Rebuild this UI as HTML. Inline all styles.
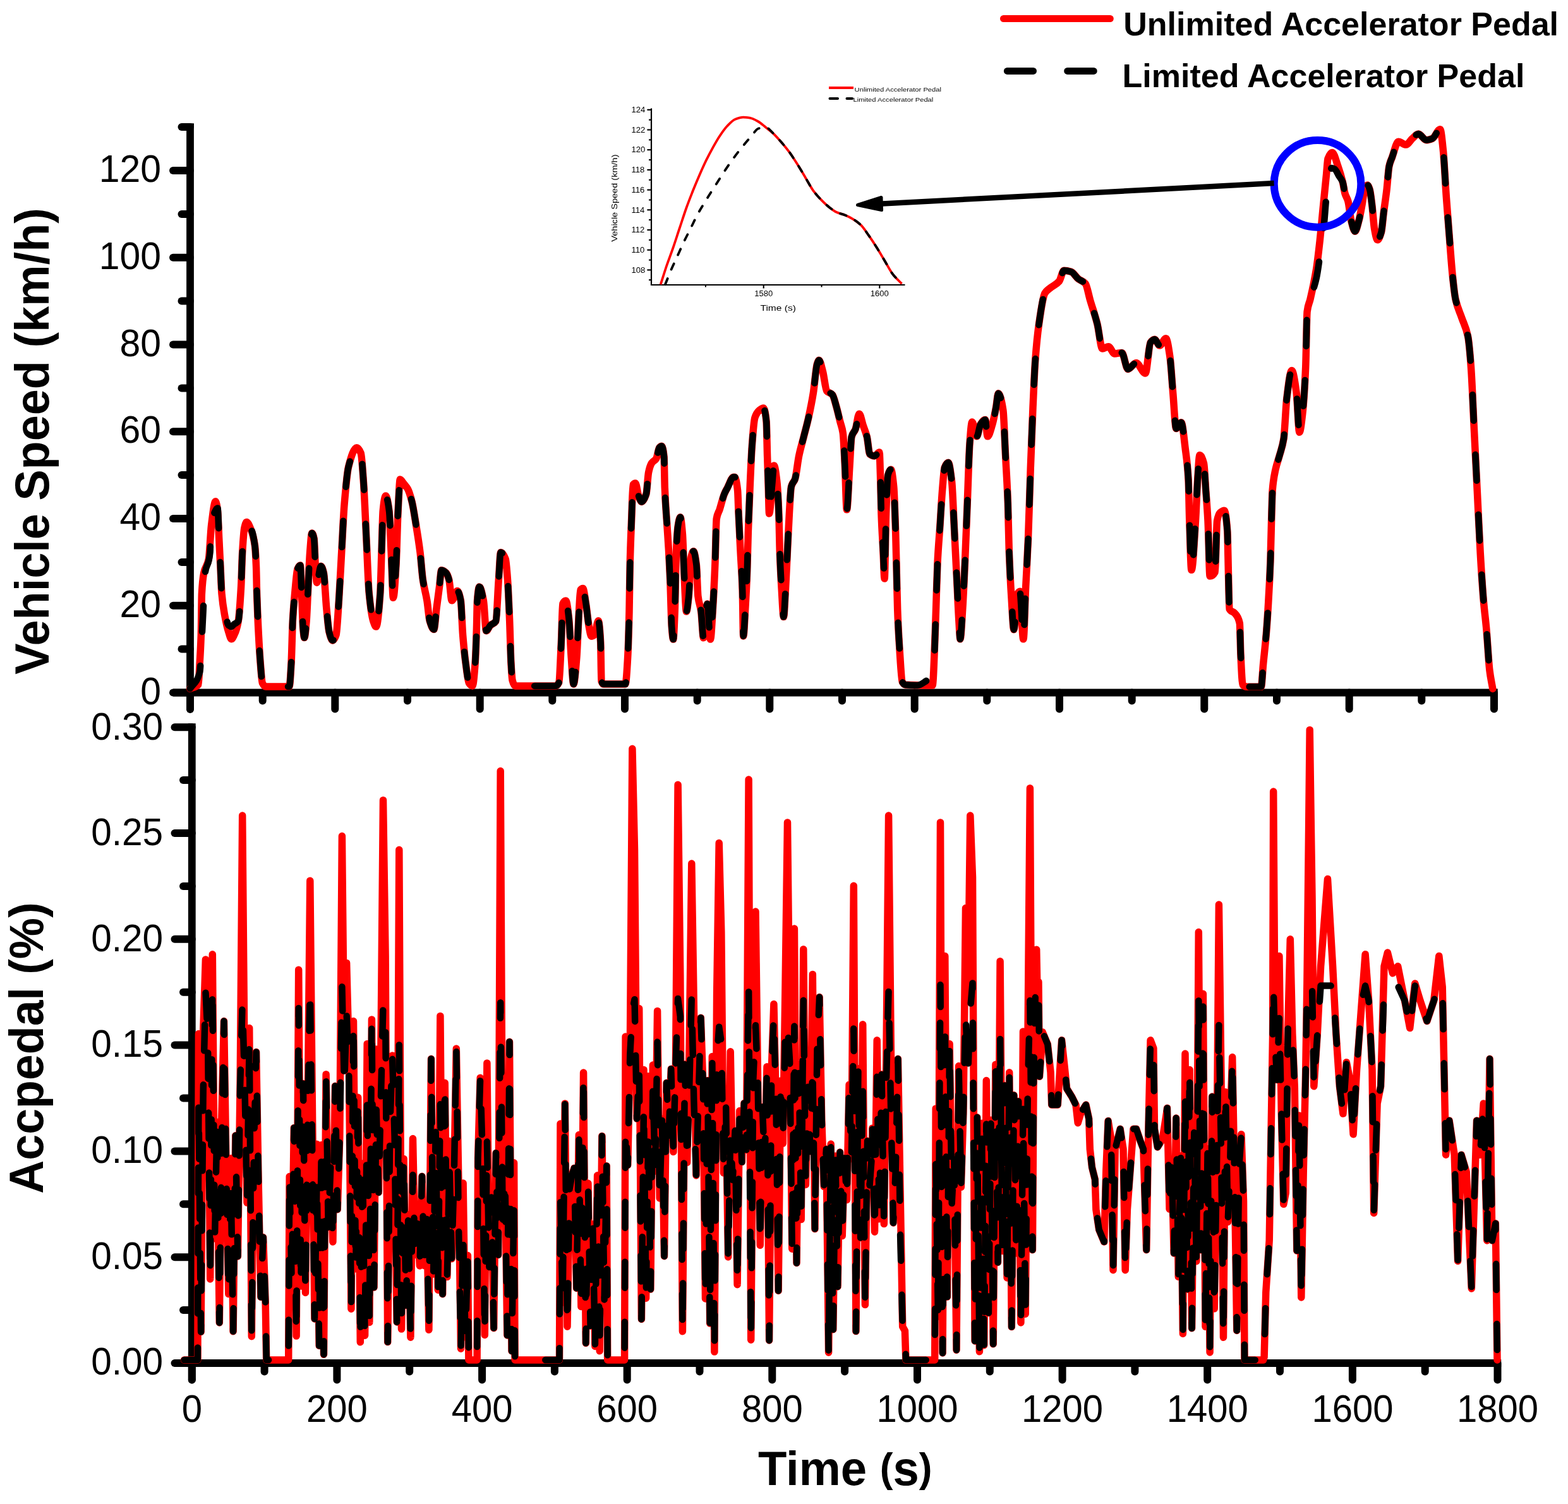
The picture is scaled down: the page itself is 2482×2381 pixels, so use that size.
<!DOCTYPE html>
<html><head><meta charset="utf-8"><title>Vehicle Speed and Accpedal</title>
<style>html,body{margin:0;padding:0;background:#fff;} svg{display:block;}</style>
</head><body>
<svg width="2482" height="2381" viewBox="0 0 2482 2381">
<rect width="2482" height="2381" fill="#fff"/>
<g stroke="#000" stroke-linecap="round" fill="none">
<line x1="301.0" y1="195.5" x2="301.0" y2="1122.5" stroke-width="11.8" stroke-linecap="butt"/>
<line x1="301.0" y1="1122" x2="301.0" y2="1123" stroke-width="11.8"/>
<line x1="274" y1="1096.5" x2="2370.5" y2="1096.5" stroke-width="11.8" stroke-linecap="butt"/>
<line x1="274" y1="1096.5" x2="301.0" y2="1096.5" stroke-width="12.0"/>
<line x1="274" y1="958.8" x2="301.0" y2="958.8" stroke-width="12.0"/>
<line x1="274" y1="821" x2="301.0" y2="821" stroke-width="12.0"/>
<line x1="274" y1="683.2" x2="301.0" y2="683.2" stroke-width="12.0"/>
<line x1="274" y1="545.5" x2="301.0" y2="545.5" stroke-width="12.0"/>
<line x1="274" y1="407.8" x2="301.0" y2="407.8" stroke-width="12.0"/>
<line x1="274" y1="270" x2="301.0" y2="270" stroke-width="12.0"/>
<line x1="287.5" y1="1027.6" x2="301.0" y2="1027.6" stroke-width="12.0"/>
<line x1="287.5" y1="889.9" x2="301.0" y2="889.9" stroke-width="12.0"/>
<line x1="287.5" y1="752.1" x2="301.0" y2="752.1" stroke-width="12.0"/>
<line x1="287.5" y1="614.4" x2="301.0" y2="614.4" stroke-width="12.0"/>
<line x1="287.5" y1="476.6" x2="301.0" y2="476.6" stroke-width="12.0"/>
<line x1="287.5" y1="338.9" x2="301.0" y2="338.9" stroke-width="12.0"/>
<line x1="287.5" y1="201.1" x2="301.0" y2="201.1" stroke-width="12.0"/>
<line x1="301" y1="1096.5" x2="301" y2="1122.5" stroke-width="12.0"/>
<line x1="530.3" y1="1096.5" x2="530.3" y2="1122.5" stroke-width="12.0"/>
<line x1="759.7" y1="1096.5" x2="759.7" y2="1122.5" stroke-width="12.0"/>
<line x1="989" y1="1096.5" x2="989" y2="1122.5" stroke-width="12.0"/>
<line x1="1218.3" y1="1096.5" x2="1218.3" y2="1122.5" stroke-width="12.0"/>
<line x1="1447.7" y1="1096.5" x2="1447.7" y2="1122.5" stroke-width="12.0"/>
<line x1="1677" y1="1096.5" x2="1677" y2="1122.5" stroke-width="12.0"/>
<line x1="1906.3" y1="1096.5" x2="1906.3" y2="1122.5" stroke-width="12.0"/>
<line x1="2135.7" y1="1096.5" x2="2135.7" y2="1122.5" stroke-width="12.0"/>
<line x1="2365" y1="1096.5" x2="2365" y2="1122.5" stroke-width="12.0"/>
<line x1="415.7" y1="1096.5" x2="415.7" y2="1109.5" stroke-width="12.0"/>
<line x1="645" y1="1096.5" x2="645" y2="1109.5" stroke-width="12.0"/>
<line x1="874.3" y1="1096.5" x2="874.3" y2="1109.5" stroke-width="12.0"/>
<line x1="1103.7" y1="1096.5" x2="1103.7" y2="1109.5" stroke-width="12.0"/>
<line x1="1333" y1="1096.5" x2="1333" y2="1109.5" stroke-width="12.0"/>
<line x1="1562.3" y1="1096.5" x2="1562.3" y2="1109.5" stroke-width="12.0"/>
<line x1="1791.7" y1="1096.5" x2="1791.7" y2="1109.5" stroke-width="12.0"/>
<line x1="2021" y1="1096.5" x2="2021" y2="1109.5" stroke-width="12.0"/>
<line x1="2250.3" y1="1096.5" x2="2250.3" y2="1109.5" stroke-width="12.0"/>
<rect x="295.1" y="195.5" width="11.8" height="6" fill="#000" stroke="none"/>
<rect x="2364.5" y="1090.6" width="6" height="11.8" fill="#000" stroke="none"/>
</g>
<g stroke="#000" stroke-linecap="round" fill="none">
<line x1="303.8" y1="1145.3" x2="303.8" y2="2184.5" stroke-width="11.8" stroke-linecap="butt"/>
<line x1="303.8" y1="2184" x2="303.8" y2="2184.5" stroke-width="11.8"/>
<line x1="276.5" y1="2158.0" x2="2376" y2="2158.0" stroke-width="11.8" stroke-linecap="butt"/>
<line x1="276.5" y1="2158" x2="303.8" y2="2158" stroke-width="12.0"/>
<line x1="276.5" y1="1990.2" x2="303.8" y2="1990.2" stroke-width="12.0"/>
<line x1="276.5" y1="1822.4" x2="303.8" y2="1822.4" stroke-width="12.0"/>
<line x1="276.5" y1="1654.6" x2="303.8" y2="1654.6" stroke-width="12.0"/>
<line x1="276.5" y1="1486.8" x2="303.8" y2="1486.8" stroke-width="12.0"/>
<line x1="276.5" y1="1319" x2="303.8" y2="1319" stroke-width="12.0"/>
<line x1="276.5" y1="1151.2" x2="303.8" y2="1151.2" stroke-width="12.0"/>
<line x1="290" y1="2074.1" x2="303.8" y2="2074.1" stroke-width="12.0"/>
<line x1="290" y1="1906.3" x2="303.8" y2="1906.3" stroke-width="12.0"/>
<line x1="290" y1="1738.5" x2="303.8" y2="1738.5" stroke-width="12.0"/>
<line x1="290" y1="1570.7" x2="303.8" y2="1570.7" stroke-width="12.0"/>
<line x1="290" y1="1402.9" x2="303.8" y2="1402.9" stroke-width="12.0"/>
<line x1="290" y1="1235.1" x2="303.8" y2="1235.1" stroke-width="12.0"/>
<line x1="303.8" y1="2158.0" x2="303.8" y2="2184.5" stroke-width="12.0"/>
<line x1="533.4" y1="2158.0" x2="533.4" y2="2184.5" stroke-width="12.0"/>
<line x1="763.1" y1="2158.0" x2="763.1" y2="2184.5" stroke-width="12.0"/>
<line x1="992.7" y1="2158.0" x2="992.7" y2="2184.5" stroke-width="12.0"/>
<line x1="1222.3" y1="2158.0" x2="1222.3" y2="2184.5" stroke-width="12.0"/>
<line x1="1452" y1="2158.0" x2="1452" y2="2184.5" stroke-width="12.0"/>
<line x1="1681.6" y1="2158.0" x2="1681.6" y2="2184.5" stroke-width="12.0"/>
<line x1="1911.2" y1="2158.0" x2="1911.2" y2="2184.5" stroke-width="12.0"/>
<line x1="2140.9" y1="2158.0" x2="2140.9" y2="2184.5" stroke-width="12.0"/>
<line x1="2370.5" y1="2158.0" x2="2370.5" y2="2184.5" stroke-width="12.0"/>
<line x1="418.6" y1="2158.0" x2="418.6" y2="2171.5" stroke-width="12.0"/>
<line x1="648.2" y1="2158.0" x2="648.2" y2="2171.5" stroke-width="12.0"/>
<line x1="877.9" y1="2158.0" x2="877.9" y2="2171.5" stroke-width="12.0"/>
<line x1="1107.5" y1="2158.0" x2="1107.5" y2="2171.5" stroke-width="12.0"/>
<line x1="1337.1" y1="2158.0" x2="1337.1" y2="2171.5" stroke-width="12.0"/>
<line x1="1566.8" y1="2158.0" x2="1566.8" y2="2171.5" stroke-width="12.0"/>
<line x1="1796.4" y1="2158.0" x2="1796.4" y2="2171.5" stroke-width="12.0"/>
<line x1="2026" y1="2158.0" x2="2026" y2="2171.5" stroke-width="12.0"/>
<line x1="2255.7" y1="2158.0" x2="2255.7" y2="2171.5" stroke-width="12.0"/>
<rect x="2370.2" y="2152.1" width="6" height="11.8" fill="#000" stroke="none"/>
</g>
<path d="M300.9,1090.2C305.3,1088 309.6,1089.1 314,1083.7C314.7,1082.8 315.5,1062 316.2,1048.8C316.9,1036.2 317.6,1027.9 318.3,1005.2C318.7,993.3 319,946.9 319.4,939.8C320.5,918.6 321.6,912.4 322.7,907.1C325.2,894.9 327.8,897.8 330.3,885.3C331.8,878.1 333.2,842.5 334.7,830.8C336.9,813.5 339,793.7 341.2,793.7C342.3,793.7 343.4,800.4 344.5,809C345.2,814.7 346,838.1 346.7,852.6C347.4,867.1 348.2,881.3 348.9,896.2C349.6,910.4 350.3,931.7 351,939.8C352.5,956.8 353.9,964.3 355.4,972.5C357.6,984.6 359.7,994.1 361.9,1000.8C363.4,1005.4 364.8,1011.7 366.3,1011.7C367.8,1011.7 369.2,1008.1 370.7,1005.2C372.9,1000.9 375,995.3 377.2,983.4C378.7,975.4 380.1,954.6 381.6,928.9C382.3,916.7 383,886.1 383.7,874.4C384.8,856 385.9,840 387,835.2C388.1,830.4 389.2,826.4 390.3,826.4C392.5,826.4 394.6,832.2 396.8,837.3C399,842.5 401.2,848 403.4,863.5C404.1,868.4 404.8,879.8 405.5,896.2C405.9,904.8 406.2,928.3 406.6,939.8C407.3,962.7 408.1,979.6 408.8,994.3C409.9,1016.4 411,1035.2 412.1,1048.8C413.2,1062.4 414.3,1079.3 415.4,1081.5C417.2,1085.1 419,1087 420.8,1087C433.2,1087 445.5,1087 457.9,1087C459,1087 460,1067.5 461.1,1048.8C461.8,1036 462.6,997.2 463.3,983.4C464.4,962.7 465.5,951.6 466.6,939.8C468.1,924 469.5,903.9 471,900.6C472.4,897.4 473.9,895.1 475.3,895.1C476,895.1 476.8,923.4 477.5,939.8C478.2,956.2 479,986.1 479.7,994.3C480.4,1002.1 481.1,1009.6 481.8,1009.6C482.9,1009.6 484,996.2 485.1,983.4C485.8,974.8 486.6,954.3 487.3,939.8C488.4,918 489.5,888.5 490.6,874.4C491.7,860.7 492.7,843.9 493.8,843.9C494.9,843.9 496,847.2 497.1,852.6C497.8,856.2 498.6,885.3 499.3,896.2C500,907.1 500.8,922.4 501.5,922.4C503.7,922.4 505.8,896.2 508,896.2C509.5,896.2 510.9,901 512.4,907.1C513.8,913.1 515.3,946.6 516.7,961.6C518.2,977 519.6,995.1 521.1,1000.8C522.9,1007.8 524.7,1013.9 526.5,1013.9C528.3,1013.9 530.2,1010.5 532,1005.2C533.5,1001 534.9,972.1 536.4,950.7C537.8,929.8 539.3,899.5 540.7,874.4C542.2,848.7 543.6,815.9 545.1,798.1C547.3,771.8 549.4,747.8 551.6,739.2C556,721.9 560.3,708.7 564.7,708.7C566.9,708.7 569,712 571.2,717.4C572.7,721.1 574.1,744.6 575.6,765.4C577,785.8 578.5,823.9 579.9,852.6C581.4,882 582.8,924.8 584.3,939.8C586.5,962.4 588.7,976.9 590.9,983.4C592.4,987.7 593.8,992.1 595.3,992.1C597.5,992.1 599.6,970.1 601.8,939.8C602.5,929.5 603.3,896.2 604,874.4C604.7,852.6 605.5,816.4 606.2,809C607.6,794.5 609.1,785 610.5,785C612.3,785 614.2,795 616,809C617.1,817.1 618.1,851.9 619.2,874.4C620.3,897.6 621.4,946.3 622.5,946.3C624,946.3 625.4,920.3 626.9,896.2C628,878.7 629,829.8 630.1,809C631.2,787.5 632.3,758.9 633.4,758.9C635.2,758.9 637.1,763.1 638.9,765.4C641.1,768.1 643.2,770.1 645.4,774.1C647.6,778.1 649.7,785.2 651.9,793.7C654.1,802.3 656.3,817.3 658.5,830.8C660.7,844.1 662.8,856.8 665,874.4C666.5,886.3 667.9,908 669.4,918C671.6,932.8 673.7,937.5 675.9,950.7C677.4,959.6 678.8,978.6 680.3,983.4C682.5,990.5 684.6,996.5 686.8,996.5C688.3,996.5 689.7,973 691.2,961.6C692.6,950.5 694.1,940 695.5,928.9C696.6,920.3 697.7,902.7 698.8,902.7C701.3,902.7 703.9,904.6 706.4,907.1C707.9,908.6 709.3,912.6 710.8,918C712.3,923.5 713.7,950.7 715.2,950.7C718.1,950.7 721,935.4 723.9,935.4C725.7,935.4 727.5,941.5 729.3,950.7C730.4,956.3 731.5,991.4 732.6,1005.2C734.1,1023.6 735.5,1037.7 737,1048.8C738.8,1062.4 740.6,1079 742.4,1081.5C744.2,1084.1 746.1,1085.9 747.9,1085.9C749.3,1085.9 750.8,1068.2 752.2,1048.8C752.9,1038.9 753.7,1017.2 754.4,994.3C754.8,982.8 755.1,955.4 755.5,950.7C756.6,936.6 757.7,928.9 758.8,928.9C761,928.9 763.1,939.2 765.3,950.7C766.8,958.5 768.2,998.7 769.7,998.7C771.9,998.7 774,992.1 776.2,990C779.1,987.2 782,988 784.9,983.4C786.4,981.1 787.8,938.5 789.3,918C790.4,902.7 791.5,874.4 792.6,874.4C795.1,874.4 797.7,878.3 800.2,885.3C801.3,888.4 802.4,903.3 803.5,918C804.6,932.3 805.6,957.3 806.7,983.4C807.4,1001.4 808.2,1035.6 808.9,1048.8C809.6,1062 810.4,1074.3 811.1,1077.1C812.5,1082.6 814,1085.9 815.4,1085.9C836.9,1085.9 858.5,1085.9 880,1085.9C881.6,1085.9 883.1,1084 884.7,1080.6C885.9,1077.9 887.2,1042.7 888.4,1017C889.2,1000.4 890,957.6 890.8,955.9C892.4,952.4 894.1,951 895.7,951C897.3,951 899,965.6 900.6,980.3C901.8,991.4 903.1,1024.7 904.3,1041.5C905.5,1057.8 906.7,1083.1 907.9,1083.1C909.5,1083.1 911.2,1061.3 912.8,1041.5C914,1026.6 915.3,988.4 916.5,968.1C917.3,955 918.1,934.9 918.9,933.8C920.1,932.2 921.4,931.4 922.6,931.4C924.2,931.4 925.9,946.1 927.5,955.9C929.1,965.7 930.8,984.3 932.4,992.6C933.6,998.9 934.9,1007.2 936.1,1007.2C937.7,1007.2 939.4,1006.2 941,1004.8C943,1003.1 945.1,982.8 947.1,982.8C948.3,982.8 949.5,995.8 950.7,1017C951.1,1024.6 951.6,1076.9 952,1078.2C953.2,1081.9 954.4,1083.1 955.6,1083.1C967,1083.1 978.5,1083.1 989.9,1083.1C991.1,1083.1 992.4,1062.5 993.6,1041.5C994.4,1027.9 995.2,1002 996,968.1C996.4,951.2 996.8,911.3 997.2,894.7C998,860.2 998.9,842.5 999.7,821.3C1000.5,801 1001.3,768.5 1002.1,767.4C1003.3,765.7 1004.6,765 1005.8,765C1007.4,765 1009.1,780.2 1010.7,784.6C1012.3,789 1014,794.4 1015.6,794.4C1018,794.4 1020.5,789.6 1022.9,782.1C1024.1,778.3 1025.4,753.6 1026.6,747.9C1028.2,740.3 1029.9,735.7 1031.5,733.2C1033.9,729.4 1036.4,729.8 1038.8,725.9C1040.4,723.3 1042.1,710.4 1043.7,708.7C1044.9,707.4 1046.2,706.3 1047.4,706.3C1048.6,706.3 1049.9,711.6 1051.1,723.4C1051.5,727.2 1051.9,762.2 1052.3,772.3C1053.5,803.6 1054.8,814 1056,833.5C1056.8,846.2 1057.6,856.2 1058.4,870.2C1059.2,884.2 1060,899.9 1060.8,919.1C1061.6,939.1 1062.5,982 1063.3,992.6C1064.1,1002.7 1064.9,1012.1 1065.7,1012.1C1066.5,1012.1 1067.4,988.6 1068.2,968.1C1069,948.4 1069.8,887.5 1070.6,870.2C1071.4,852.2 1072.3,838.9 1073.1,833.5C1074.3,825.5 1075.6,818.8 1076.8,818.8C1078,818.8 1079.2,831.5 1080.4,845.7C1081.2,855.6 1082.1,890 1082.9,906.9C1084.1,931.2 1085.3,968.1 1086.5,968.1C1087.7,968.1 1089,955.3 1090.2,943.6C1091.4,931.9 1092.7,888 1093.9,882.4C1095.1,876.8 1096.4,872.7 1097.6,872.7C1099.2,872.7 1100.8,882 1102.4,894.7C1103.2,901.3 1104.1,936.5 1104.9,943.6C1106.5,957.5 1108.2,956.6 1109.8,968.1C1111,976.8 1112.3,1009.7 1113.5,1009.7C1114.7,1009.7 1115.9,976.1 1117.1,968.1C1117.9,962.5 1118.8,955.9 1119.6,955.9C1121.2,955.9 1122.9,1012.1 1124.5,1012.1C1125.7,1012.1 1126.9,986.2 1128.1,968.1C1129.3,949.5 1130.6,924.8 1131.8,894.7C1132.6,875.2 1133.4,826.1 1134.2,821.3C1135.8,811.5 1137.5,811.7 1139.1,806.6C1141.6,798.9 1144,788.1 1146.5,782.1C1148.1,778.1 1149.8,775.4 1151.4,772.3C1154.7,766.2 1157.9,755.2 1161.2,755.2C1161.8,755.2 1162.4,755.2 1163,755.3C1164.5,755.4 1166.1,763.1 1167.6,776.5C1168.1,780.9 1168.6,801.8 1169.1,812.9C1170.1,835.2 1171.1,853.6 1172.1,873.5C1173.1,894.1 1174.2,903.9 1175.2,934.2C1175.7,948.9 1176.2,1006.9 1176.7,1006.9C1177.7,1006.9 1178.7,981.1 1179.7,964.5C1180.7,947.9 1181.7,931.1 1182.7,903.9C1183.2,889.4 1183.8,859.7 1184.3,843.2C1185.3,812.2 1186.3,789.9 1187.3,767.4C1188.3,744.9 1189.3,720.4 1190.3,706.8C1191.8,685.9 1193.4,665.8 1194.9,661.3C1197.4,653.9 1200,651.1 1202.5,649.2C1204.5,647.7 1206.5,646.1 1208.5,646.1C1210,646.1 1211.6,652.9 1213.1,667.4C1213.6,672.1 1214.1,705.4 1214.6,721.9C1215.1,738.4 1215.6,752.2 1216.1,767.4C1216.6,782.6 1217.1,812.9 1217.6,812.9C1219.1,812.9 1220.7,782.7 1222.2,767.4C1223.2,757.4 1224.2,737.1 1225.2,737.1C1226.7,737.1 1228.2,748.7 1229.7,761.3C1230.7,770 1231.8,787.3 1232.8,812.9C1233.3,825.3 1233.8,859.5 1234.3,873.5C1235.3,901.5 1236.3,917.9 1237.3,934.2C1238.3,951.1 1239.4,976.6 1240.4,976.6C1241.4,976.6 1242.4,950.8 1243.4,934.2C1244.4,917.6 1245.4,893.7 1246.4,873.5C1247.4,853.3 1248.4,829.3 1249.4,812.9C1250.4,796 1251.5,774.3 1252.5,770.4C1254.5,762.8 1256.5,764.3 1258.5,758.3C1260.5,752.2 1262.6,731.7 1264.6,721.9C1267.1,709.7 1269.7,701.7 1272.2,691.6C1274.7,681.5 1277.3,672.7 1279.8,661.3C1282.3,649.9 1284.9,637.6 1287.4,621.9C1289.4,609.5 1291.4,582.4 1293.4,576.4C1294.4,573.4 1295.4,570.3 1296.4,570.3C1298.4,570.3 1300.5,580.9 1302.5,588.5C1304.5,596.1 1306.6,616.3 1308.6,618.8C1311.6,622.6 1314.7,621.4 1317.7,624.9C1319.7,627.2 1321.7,636.2 1323.7,643.1C1325.7,650.1 1327.8,659.3 1329.8,667.4C1331.3,673.4 1332.8,675.4 1334.3,685.5C1335.3,692.5 1336.4,717 1337.4,737.1C1338.4,756.5 1339.4,806.8 1340.4,806.8C1341.9,806.8 1343.5,760.3 1345,737.1C1346,721.9 1347,695.4 1348,691.6C1350,683.8 1352.1,684.9 1354.1,679.5C1356.1,674.2 1358.1,655.2 1360.1,655.2C1362.1,655.2 1364.2,667.3 1366.2,673.4C1368.2,679.5 1370.3,683.3 1372.3,691.6C1373.8,697.7 1375.3,717.7 1376.8,718.9C1379.3,720.9 1381.9,721.9 1384.4,721.9C1386.9,721.9 1389.5,715.9 1392,715.9C1392.5,715.9 1393,737.1 1393.5,752.2C1394,767.3 1394.5,798.9 1395,812.9C1396,840.9 1397,853.3 1398,873.5C1398.7,887.7 1399.4,916 1400.1,916C1400.9,916 1401.8,835.8 1402.6,812.9C1403.6,785.5 1404.6,756 1405.6,752.2C1407.1,746.4 1408.7,743.2 1410.2,743.2C1411.7,743.2 1413.2,755.3 1414.7,770.4C1415.7,780.5 1416.7,812 1417.7,843.2C1418.2,858.8 1418.7,883.7 1419.2,903.9C1419.7,924.1 1420.2,950.8 1420.7,964.5C1421.7,992.9 1422.8,1009.4 1423.8,1025.1C1425.3,1047.9 1426.8,1077.1 1428.3,1079.7C1429.8,1082.4 1431.4,1083.9 1432.9,1084C1447.3,1084.9 1461.6,1085 1476,1085C1477.4,1085 1478.8,1037.8 1480.2,1004.2C1480.8,989 1481.5,966.5 1482.1,947.6C1482.7,928.7 1483.4,904 1484,890.9C1485.3,864.8 1486.5,853.4 1487.8,834.3C1489,815.7 1490.3,792.5 1491.5,777.6C1492.8,762.3 1494,743 1495.3,739.9C1497.2,735.2 1499.1,732.3 1501,732.3C1502.9,732.3 1504.7,746.3 1506.6,762.5C1507.9,773.5 1509.1,809.8 1510.4,834.3C1511.7,858.8 1512.9,884.6 1514.2,909.8C1515.5,935 1516.7,964.9 1518,985.3C1518.6,995.5 1519.3,1011.8 1519.9,1011.8C1521.1,1011.8 1522.4,985.2 1523.6,966.5C1524.9,947.3 1526.1,918.9 1527.4,890.9C1528.7,862.9 1529.9,828 1531.2,796.5C1532.5,765 1533.7,719.1 1535,702.1C1536.2,685.6 1537.5,668.1 1538.7,668.1C1541.2,668.1 1543.8,690.8 1546.3,690.8C1548.2,690.8 1550.1,674.9 1552,671.9C1554.5,668 1557,664.4 1559.5,664.4C1560.8,664.4 1562,690.8 1563.3,690.8C1565.8,690.8 1568.3,680.2 1570.8,671.9C1572.7,665.6 1574.6,655.5 1576.5,645.5C1577.8,638.8 1579,622.8 1580.3,622.8C1582.8,622.8 1585.3,633.2 1587.8,649.2C1589.1,657.3 1590.3,696.5 1591.6,721C1592.9,745.5 1594.1,761.7 1595.4,796.5C1596,813.9 1596.7,854.6 1597.3,872C1598.6,906.9 1599.8,927.5 1601.1,947.6C1602.3,967.2 1603.6,996.7 1604.8,996.7C1606.7,996.7 1608.6,943.2 1610.5,940C1611.8,937.9 1613,936.3 1614.3,936.3C1616.2,936.3 1618,1011.8 1619.9,1011.8C1621.2,1011.8 1622.4,955.1 1623.7,928.7C1625,902.3 1626.2,883.4 1627.5,853.2C1628.8,823 1630,774.7 1631.3,739.9C1632.5,706 1633.8,673.1 1635,645.5C1636.3,617.2 1637.5,587.1 1638.8,569.9C1640.7,544.2 1642.6,526.6 1644.5,513.3C1647.6,491.3 1650.8,469.3 1653.9,464.2C1656.4,460 1659,458.8 1661.5,456.6C1666.5,452.2 1671.6,451.3 1676.6,445.3C1679.1,442.3 1681.6,428.3 1684.1,428.3C1687.9,428.3 1691.7,429.1 1695.5,430.2C1699.3,431.3 1703,438.5 1706.8,441.5C1710.6,444.5 1714.3,444.7 1718.1,449.1C1720.6,452.1 1723.2,466.9 1725.7,475.5C1729.5,488.4 1733.2,498.2 1737,513.3C1739.6,523.9 1742.3,551.9 1744.9,551.9C1748.1,551.9 1751.4,548.7 1754.6,548.7C1757.8,548.7 1761.1,560 1764.3,560C1768.1,560 1771.9,558.4 1775.7,558.4C1778.9,558.4 1782.2,584.4 1785.4,584.4C1789.7,584.4 1794.1,574.6 1798.4,574.6C1803.3,574.6 1808.1,590.9 1813,590.9C1815.7,590.9 1818.4,545.7 1821.1,542.2C1823.3,539.4 1825.4,537.3 1827.6,537.3C1830.3,537.3 1833,547 1835.7,547C1839,547 1842.2,535.7 1845.5,535.7C1847.6,535.7 1849.8,550.5 1851.9,564.9C1853.5,575.9 1855.2,604.4 1856.8,623.3C1858.4,642.2 1860.1,678.5 1861.7,678.5C1864.4,678.5 1867.1,668.7 1869.8,668.7C1872,668.7 1874.1,693.6 1876.3,710.9C1877.9,723.7 1879.5,731.3 1881.1,759.6C1881.7,769.6 1882.2,807.3 1882.8,824.5C1883.9,856.9 1884.9,902.3 1886,902.3C1888.2,902.3 1890.3,858.1 1892.5,824.5C1893.6,808 1894.6,775.6 1895.7,759.6C1896.8,743.2 1897.9,720.6 1899,720.6C1901.2,720.6 1903.3,725.4 1905.5,733.6C1906.6,737.6 1907.6,760.9 1908.7,775.8C1909.8,791.1 1910.9,803.4 1912,824.5C1913.1,845 1914.1,912.1 1915.2,912.1C1917.9,912.1 1920.6,910.4 1923.3,905.6C1924.4,903.6 1925.5,830.1 1926.6,824.5C1928.2,816.3 1929.8,812.9 1931.4,811.5C1933.6,809.6 1935.7,808.2 1937.9,808.2C1939.5,808.2 1941.2,819.5 1942.8,840.7C1943.3,847.6 1943.9,885.1 1944.4,905.6C1944.9,926.1 1945.5,962.9 1946,964C1948.7,969.4 1951.4,967.4 1954.1,970.5C1956.8,973.6 1959.6,974.1 1962.3,986.7C1962.8,989.2 1963.4,1024.2 1963.9,1035.4C1965,1057.8 1966,1082.8 1967.1,1084C1969.3,1086.4 1971.4,1087.3 1973.6,1087.3C1981.2,1087.3 1988.7,1087.3 1996.3,1087.3C1997.4,1087.3 1998.5,1063.1 1999.6,1051.6C2001.2,1034.8 2002.8,1022.3 2004.4,1002.9C2005.5,989.5 2006.6,973.1 2007.7,954.3C2008.8,936.1 2009.8,918.6 2010.9,889.4C2011.5,873.9 2012,843.7 2012.6,824.5C2013.1,806.5 2013.7,782.4 2014.2,775.8C2015.8,756 2017.4,750.9 2019,743.4C2021.2,733.2 2023.3,728.7 2025.5,720.6C2027.7,712.5 2029.8,708.3 2032,694.7C2033.6,684.4 2035.3,643 2036.9,629.8C2039.5,608.8 2042.1,586.4 2044.7,586.4C2047.1,586.4 2049.6,603.3 2052,620.6C2053.6,632.2 2055.3,684.3 2056.9,684.3C2058.5,684.3 2060.2,668.9 2061.8,654.9C2063.4,640.9 2065.1,618 2066.7,581.5C2067.5,563.6 2068.3,499.8 2069.1,493.4C2070.7,480.4 2072.4,481 2074,473.8C2077.3,459.5 2080.5,445.5 2083.8,424.9C2085.4,414.6 2087.1,400.3 2088.7,385.7C2090.7,367.9 2092.7,344.9 2094.7,324.7C2096.3,308.2 2098,292.2 2099.6,275.7C2100.4,267.6 2101.2,253.5 2102,251.2C2104.3,244.7 2106.5,241.4 2108.8,241.4C2111.9,241.4 2114.9,254.9 2118,263.5C2120.4,270.4 2122.9,278.1 2125.3,288C2126.5,293 2127.8,302.1 2129,306.3C2130.6,311.8 2132.3,312.8 2133.9,318.6C2135.5,324.4 2137.2,342.8 2138.8,349.2C2140.8,357.2 2142.9,366.3 2144.9,366.3C2146.9,366.3 2149,356.6 2151,349.2C2152.6,343.3 2154.3,333.4 2155.9,324.7C2157.5,316 2159.2,299.1 2160.8,296.5C2162,294.5 2163.3,292.9 2164.5,292.9C2165.7,292.9 2167,296.4 2168.2,300.2C2169.4,303.9 2170.6,315 2171.8,324.7C2173,334.6 2174.3,354.5 2175.5,361.4C2177.1,370.5 2178.8,379.8 2180.4,379.8C2182.4,379.8 2184.5,374.4 2186.5,367.5C2187.7,363.3 2189,346.6 2190.2,336.9C2191.8,324 2193.5,314.2 2195.1,300.2C2196.3,289.6 2197.6,269.4 2198.8,263.5C2200.4,255.7 2202.1,253.2 2203.7,248.7C2207,239.7 2210.2,224.3 2213.5,224.3C2217.6,224.3 2221.6,229.1 2225.7,229.1C2229,229.1 2232.2,222.2 2235.5,219.4C2238.8,216.6 2242,212 2245.3,212C2249.4,212 2253.5,221.8 2257.6,221.8C2260.8,221.8 2264.1,220.7 2267.3,219.4C2271.4,217.8 2275.5,204.7 2279.6,204.7C2281.2,204.7 2282.9,223.3 2284.5,238.9C2286.1,254.5 2287.8,289.6 2289.4,312.3C2291,335 2292.7,355.4 2294.3,376C2295.9,396.2 2297.5,419.2 2299.1,434.7C2300.7,450.5 2302.4,466.3 2304,473.8C2307.3,488.8 2310.5,493.4 2313.8,503.2C2317.1,513 2320.3,516.6 2323.6,532.6C2325.2,540.6 2326.9,559.8 2328.5,581.5C2330.1,603.2 2331.8,646.8 2333.4,679.4C2335,712 2336.7,744.6 2338.3,777.2C2339.9,809.8 2341.6,847.1 2343.2,875.1C2344.8,903.1 2346.5,928.9 2348.1,948.5C2349.7,968.1 2351.4,979 2353,997.4C2354.6,1015.8 2356.3,1047.6 2357.9,1061C2359.5,1074.4 2361.2,1080.6 2362.8,1090.4" fill="none" stroke="#f00" stroke-width="11.5" stroke-linejoin="round" stroke-linecap="round"/>
<path d="M300.9,1090.2C306,1081.5 311.1,1083.2 316.2,1064C317.3,1060 318.3,1030.9 319.4,1011.7C320.1,998.5 320.9,983.8 321.6,968.1C322.4,951 323.2,918.8 324,912C326.8,887.9 329.7,900.8 332.5,874.4C333,869.7 333.5,833.8 334,830C335.3,819.9 336.7,818.1 338,815C340.2,810 342.3,804.6 344.5,804.6C345.3,804.6 346.2,841.9 347,859C347.6,872 348.3,883.4 348.9,896.2C349.6,910.3 350.3,933.1 351,939.8C352.5,953.9 353.9,958.2 355.4,965C357.6,975.1 359.7,988.3 361.9,990C363.4,991.1 364.8,992 366.3,992C367.8,992 369.2,989.2 370.7,988C372.9,986.3 375,986.5 377.2,983.4C378.7,981.3 380.1,954.6 381.6,928.9C382.3,916.7 383,886.1 383.7,874.4C384.8,856 385.9,835.2 387,835.2C388.1,835.2 389.2,840 390.3,840C392.5,840 394.6,838 396.8,838C399,838 401.2,848.3 403.4,863.5C404.1,868.3 404.8,879.8 405.5,896.2C405.9,904.8 406.2,928.3 406.6,939.8C407.3,962.7 408.1,979.6 408.8,994.3C409.9,1016.4 411,1035.2 412.1,1048.8C413.2,1062.4 414.3,1079.3 415.4,1081.5C417.2,1085.1 419,1087 420.8,1087C433.2,1087 445.5,1087 457.9,1087C459,1087 460,1067.5 461.1,1048.8C461.8,1036 462.6,997.2 463.3,983.4C464.4,962.7 465.5,951.6 466.6,939.8C468.1,924 469.5,903.9 471,900.6C472.4,897.4 473.9,895.1 475.3,895.1C476,895.1 476.8,923.4 477.5,939.8C478.2,956.2 479,986.1 479.7,994.3C480.4,1002.1 481.1,1009.6 481.8,1009.6C482.9,1009.6 484,996.2 485.1,983.4C485.8,974.8 486.6,954.3 487.3,939.8C488.4,918 489.5,888.5 490.6,874.4C491.7,860.7 492.7,843.9 493.8,843.9C494.9,843.9 496,847.2 497.1,852.6C497.8,856.2 498.6,885.3 499.3,896.2C500,907.1 500.8,922.4 501.5,922.4C503.7,922.4 505.8,896.2 508,896.2C509.5,896.2 510.9,901 512.4,907.1C513.8,913.1 515.3,946.6 516.7,961.6C518.2,977 519.6,995.1 521.1,1000.8C522.9,1007.8 524.7,1013.9 526.5,1013.9C528.3,1013.9 530.2,1010.5 532,1005.2C533.5,1001 534.9,972.1 536.4,950.7C537.8,929.8 539.3,899.5 540.7,874.4C542.2,848.7 543.6,815.9 545.1,798.1C547.3,771.8 549.4,747.8 551.6,739.2C556,721.9 560.3,708.7 564.7,708.7C566.9,708.7 569,712 571.2,717.4C572.7,721.1 574.1,744.6 575.6,765.4C577,785.8 578.5,823.9 579.9,852.6C581.4,882 582.8,924.8 584.3,939.8C586.5,962.4 588.7,976.9 590.9,983.4C592.4,987.7 593.8,992.1 595.3,992.1C597.5,992.1 599.6,970.1 601.8,939.8C602.5,929.5 603.3,896.2 604,874.4C604.7,852.6 605.5,816.4 606.2,809C607.6,794.5 609.1,785 610.5,785C612.3,785 614.2,795 616,809C617.1,817.1 618.1,851.9 619.2,874.4C620.3,897.6 621.4,946.3 622.5,946.3C624,946.3 625.4,920.3 626.9,896.2C628,878.7 629,829.8 630.1,809C631.2,787.5 632.3,758.9 633.4,758.9C635.2,758.9 637.1,763.1 638.9,765.4C641.1,768.1 643.2,770.1 645.4,774.1C647.6,778.1 649.7,785.2 651.9,793.7C654.1,802.3 656.3,817.3 658.5,830.8C660.7,844.1 662.8,856.8 665,874.4C666.5,886.3 667.9,908 669.4,918C671.6,932.8 673.7,937.5 675.9,950.7C677.4,959.6 678.8,978.6 680.3,983.4C682.5,990.5 684.6,996.5 686.8,996.5C688.3,996.5 689.7,973 691.2,961.6C692.6,950.5 694.1,940 695.5,928.9C696.6,920.3 697.7,902.7 698.8,902.7C701.3,902.7 703.9,904.6 706.4,907.1C707.9,908.6 709.3,912.6 710.8,918C712.3,923.5 713.7,950.7 715.2,950.7C718.1,950.7 721,935.4 723.9,935.4C725.7,935.4 727.5,941.5 729.3,950.7C730.4,956.3 731.5,991.4 732.6,1005.2C734.1,1023.6 735.5,1037.7 737,1048.8C738.8,1062.4 740.6,1079 742.4,1081.5C744.2,1084.1 746.1,1085.9 747.9,1085.9C749.3,1085.9 750.8,1068.2 752.2,1048.8C752.9,1038.9 753.7,1017.2 754.4,994.3C754.8,982.8 755.1,955.4 755.5,950.7C756.6,936.6 757.7,928.9 758.8,928.9C761,928.9 763.1,939.2 765.3,950.7C766.8,958.5 768.2,998.7 769.7,998.7C771.9,998.7 774,992.1 776.2,990C779.1,987.2 782,988 784.9,983.4C786.4,981.1 787.8,938.5 789.3,918C790.4,902.7 791.5,874.4 792.6,874.4C795.1,874.4 797.7,878.3 800.2,885.3C801.3,888.4 802.4,903.3 803.5,918C804.6,932.3 805.6,957.3 806.7,983.4C807.4,1001.4 808.2,1035.6 808.9,1048.8C809.6,1062 810.4,1074.3 811.1,1077.1C812.5,1082.6 814,1085.9 815.4,1085.9C836.9,1085.9 858.5,1085.9 880,1085.9C881.6,1085.9 883.1,1084 884.7,1080.6C885.9,1077.9 887.2,1042.7 888.4,1017C889.2,1000.4 890,957.6 890.8,955.9C892.4,952.4 894.1,951 895.7,951C897.3,951 899,965.6 900.6,980.3C901.8,991.4 903.1,1024.7 904.3,1041.5C905.5,1057.8 906.7,1083.1 907.9,1083.1C909.5,1083.1 911.2,1061.3 912.8,1041.5C914,1026.6 915.3,988.4 916.5,968.1C917.3,955 918.1,934.9 918.9,933.8C920.1,932.2 921.4,931.4 922.6,931.4C924.2,931.4 925.9,946.1 927.5,955.9C929.1,965.7 930.8,984.3 932.4,992.6C933.6,998.9 934.9,1007.2 936.1,1007.2C937.7,1007.2 939.4,1006.2 941,1004.8C943,1003.1 945.1,982.8 947.1,982.8C948.3,982.8 949.5,995.8 950.7,1017C951.1,1024.6 951.6,1076.9 952,1078.2C953.2,1081.9 954.4,1083.1 955.6,1083.1C967,1083.1 978.5,1083.1 989.9,1083.1C991.1,1083.1 992.4,1062.5 993.6,1041.5C994.4,1027.9 995.2,1002 996,968.1C996.4,951.2 996.8,911.3 997.2,894.7C998,860.2 998.9,842.5 999.7,821.3C1000.5,801 1001.3,768.5 1002.1,767.4C1003.3,765.7 1004.6,765 1005.8,765C1007.4,765 1009.1,780.2 1010.7,784.6C1012.3,789 1014,794.4 1015.6,794.4C1018,794.4 1020.5,789.6 1022.9,782.1C1024.1,778.3 1025.4,753.6 1026.6,747.9C1028.2,740.3 1029.9,735.7 1031.5,733.2C1033.9,729.4 1036.4,729.8 1038.8,725.9C1040.4,723.3 1042.1,710.4 1043.7,708.7C1044.9,707.4 1046.2,706.3 1047.4,706.3C1048.6,706.3 1049.9,711.6 1051.1,723.4C1051.5,727.2 1051.9,762.2 1052.3,772.3C1053.5,803.6 1054.8,814 1056,833.5C1056.8,846.2 1057.6,856.2 1058.4,870.2C1059.2,884.2 1060,899.9 1060.8,919.1C1061.6,939.1 1062.5,982 1063.3,992.6C1064.1,1002.7 1064.9,1012.1 1065.7,1012.1C1066.5,1012.1 1067.4,988.6 1068.2,968.1C1069,948.4 1069.8,887.5 1070.6,870.2C1071.4,852.2 1072.3,838.9 1073.1,833.5C1074.3,825.5 1075.6,818.8 1076.8,818.8C1078,818.8 1079.2,831.5 1080.4,845.7C1081.2,855.6 1082.1,890 1082.9,906.9C1084.1,931.2 1085.3,968.1 1086.5,968.1C1087.7,968.1 1089,955.3 1090.2,943.6C1091.4,931.9 1092.7,888 1093.9,882.4C1095.1,876.8 1096.4,872.7 1097.6,872.7C1099.2,872.7 1100.8,882 1102.4,894.7C1103.2,901.3 1104.1,936.5 1104.9,943.6C1106.5,957.5 1108.2,956.6 1109.8,968.1C1111,976.8 1112.3,1009.7 1113.5,1009.7C1114.7,1009.7 1115.9,976.1 1117.1,968.1C1117.9,962.5 1118.8,955.9 1119.6,955.9C1121.2,955.9 1122.9,1012.1 1124.5,1012.1C1125.7,1012.1 1126.9,986.2 1128.1,968.1C1129.3,949.5 1130.6,924.8 1131.8,894.7C1132.6,875.2 1133.4,826.1 1134.2,821.3C1135.8,811.5 1137.5,811.7 1139.1,806.6C1141.6,798.9 1144,788.1 1146.5,782.1C1148.1,778.1 1149.8,775.4 1151.4,772.3C1154.7,766.2 1157.9,755.2 1161.2,755.2C1161.8,755.2 1162.4,755.2 1163,755.3C1164.5,755.4 1166.1,763.1 1167.6,776.5C1168.1,780.9 1168.6,801.8 1169.1,812.9C1170.1,835.2 1171.1,853.6 1172.1,873.5C1173.1,894.1 1174.2,903.9 1175.2,934.2C1175.7,948.9 1176.2,1006.9 1176.7,1006.9C1177.7,1006.9 1178.7,981.1 1179.7,964.5C1180.7,947.9 1181.7,931.1 1182.7,903.9C1183.2,889.4 1183.8,859.7 1184.3,843.2C1185.3,812.2 1186.3,789.9 1187.3,767.4C1188.3,744.9 1189.3,720.4 1190.3,706.8C1191.8,685.9 1193.4,665.8 1194.9,661.3C1197.4,653.9 1200,651.1 1202.5,649.2C1204.5,647.7 1206.5,646.1 1208.5,646.1C1210,646.1 1211.6,652.9 1213.1,667.4C1213.6,672.1 1214.1,705.4 1214.6,721.9C1215.1,738.4 1215.6,752.2 1216.1,767.4C1216.6,782.6 1217.1,812.9 1217.6,812.9C1219.1,812.9 1220.7,782.7 1222.2,767.4C1223.2,757.4 1224.2,737.1 1225.2,737.1C1226.7,737.1 1228.2,748.7 1229.7,761.3C1230.7,770 1231.8,787.3 1232.8,812.9C1233.3,825.3 1233.8,859.5 1234.3,873.5C1235.3,901.5 1236.3,917.9 1237.3,934.2C1238.3,951.1 1239.4,976.6 1240.4,976.6C1241.4,976.6 1242.4,950.8 1243.4,934.2C1244.4,917.6 1245.4,893.7 1246.4,873.5C1247.4,853.3 1248.4,829.3 1249.4,812.9C1250.4,796 1251.5,774.3 1252.5,770.4C1254.5,762.8 1256.5,764.3 1258.5,758.3C1260.5,752.2 1262.6,731.7 1264.6,721.9C1267.1,709.7 1269.7,701.7 1272.2,691.6C1274.7,681.5 1277.3,672.7 1279.8,661.3C1282.3,649.9 1284.9,637.6 1287.4,621.9C1289.4,609.5 1291.4,582.4 1293.4,576.4C1294.4,573.4 1295.4,570.3 1296.4,570.3C1298.4,570.3 1300.5,580.9 1302.5,588.5C1304.5,596.1 1306.6,616.3 1308.6,618.8C1311.6,622.6 1314.7,621.4 1317.7,624.9C1319.7,627.2 1321.7,636.2 1323.7,643.1C1325.7,650.1 1327.8,659.3 1329.8,667.4C1331.3,673.4 1332.8,675.4 1334.3,685.5C1335.3,692.5 1336.4,717 1337.4,737.1C1338.4,756.5 1339.4,806.8 1340.4,806.8C1341.9,806.8 1343.5,760.3 1345,737.1C1346,721.9 1347,695.4 1348,691.6C1350,683.8 1352.1,684.9 1354.1,679.5C1356.1,674.2 1358.1,655.2 1360.1,655.2C1362.1,655.2 1364.2,667.3 1366.2,673.4C1368.2,679.5 1370.3,683.3 1372.3,691.6C1373.8,697.7 1375.3,717.7 1376.8,718.9C1379.3,720.9 1381.9,721.9 1384.4,721.9C1386.9,721.9 1389.5,715.9 1392,715.9C1392.5,715.9 1393,737.1 1393.5,752.2C1394,767.3 1394.5,798.9 1395,812.9C1396,840.9 1397,853.3 1398,873.5C1398.7,887.7 1399.4,916 1400.1,916C1400.9,916 1401.8,835.8 1402.6,812.9C1403.6,785.5 1404.6,756 1405.6,752.2C1407.1,746.4 1408.7,743.2 1410.2,743.2C1411.7,743.2 1413.2,755.3 1414.7,770.4C1415.7,780.5 1416.7,812 1417.7,843.2C1418.2,858.8 1418.7,883.7 1419.2,903.9C1419.7,924.1 1420.2,950.8 1420.7,964.5C1421.7,992.9 1422.8,1009.4 1423.8,1025.1C1425.3,1047.9 1426.8,1077.1 1428.3,1079.7C1429.8,1082.4 1431.4,1083.8 1432.9,1084C1439.3,1084.8 1445.6,1085 1452,1085C1456.7,1085 1461.3,1081.1 1466,1078C1470,1075.3 1474,1075.8 1478,1066C1478.7,1064.2 1479.5,1025.4 1480.2,1004.2C1480.8,985.9 1481.5,966.5 1482.1,947.6C1482.7,928.7 1483.4,904 1484,890.9C1485.3,864.8 1486.5,853.4 1487.8,834.3C1489,815.7 1490.3,792.5 1491.5,777.6C1492.8,762.3 1494,743 1495.3,739.9C1497.2,735.2 1499.1,732.3 1501,732.3C1502.9,732.3 1504.7,746.3 1506.6,762.5C1507.9,773.5 1509.1,809.8 1510.4,834.3C1511.7,858.8 1512.9,884.6 1514.2,909.8C1515.5,935 1516.7,964.9 1518,985.3C1518.6,995.5 1519.3,1011.8 1519.9,1011.8C1521.1,1011.8 1522.4,985.2 1523.6,966.5C1524.9,947.3 1526.1,918.9 1527.4,890.9C1528.7,862.9 1529.9,828 1531.2,796.5C1532.5,765 1533.7,719.1 1535,702.1C1536.2,685.6 1537.5,668.1 1538.7,668.1C1541.2,668.1 1543.8,690.8 1546.3,690.8C1548.2,690.8 1550.1,674.9 1552,671.9C1554.5,668 1557,664.4 1559.5,664.4C1560.8,664.4 1562,690.8 1563.3,690.8C1565.8,690.8 1568.3,680.2 1570.8,671.9C1572.7,665.6 1574.6,655.5 1576.5,645.5C1577.8,638.8 1579,622.8 1580.3,622.8C1582.8,622.8 1585.3,633.2 1587.8,649.2C1589.1,657.3 1590.3,696.5 1591.6,721C1592.9,745.5 1594.1,761.7 1595.4,796.5C1596,813.9 1596.7,854.6 1597.3,872C1598.6,906.9 1599.8,927.5 1601.1,947.6C1602.3,967.2 1603.6,996.7 1604.8,996.7C1606.7,996.7 1608.6,943.2 1610.5,940C1611.8,937.9 1613,936.3 1614.3,936.3C1616.2,936.3 1618,1011.8 1619.9,1011.8C1621.2,1011.8 1622.4,955.1 1623.7,928.7C1625,902.3 1626.2,883.4 1627.5,853.2C1628.8,823 1630,774.7 1631.3,739.9C1632.5,706 1633.8,673.1 1635,645.5C1636.3,617.2 1637.5,587.1 1638.8,569.9C1640.7,544.2 1642.6,526.6 1644.5,513.3C1647.6,491.3 1650.8,469.3 1653.9,464.2C1656.4,460 1659,458.8 1661.5,456.6C1666.5,452.2 1671.6,451.3 1676.6,445.3C1679.1,442.3 1681.6,428.3 1684.1,428.3C1687.9,428.3 1691.7,429.1 1695.5,430.2C1699.3,431.3 1703,438.5 1706.8,441.5C1710.6,444.5 1714.3,444.7 1718.1,449.1C1720.6,452.1 1723.2,466.9 1725.7,475.5C1729.5,488.4 1733.2,498.2 1737,513.3C1739.6,523.9 1742.3,551.9 1744.9,551.9C1748.1,551.9 1751.4,548.7 1754.6,548.7C1757.8,548.7 1761.1,560 1764.3,560C1768.1,560 1771.9,558.4 1775.7,558.4C1778.9,558.4 1782.2,584.4 1785.4,584.4C1789.7,584.4 1794.1,574.6 1798.4,574.6C1803.3,574.6 1808.1,590.9 1813,590.9C1815.7,590.9 1818.4,545.7 1821.1,542.2C1823.3,539.4 1825.4,537.3 1827.6,537.3C1830.3,537.3 1833,547 1835.7,547C1839,547 1842.2,535.7 1845.5,535.7C1847.6,535.7 1849.8,550.5 1851.9,564.9C1853.5,575.9 1855.2,604.4 1856.8,623.3C1858.4,642.2 1860.1,678.5 1861.7,678.5C1864.4,678.5 1867.1,668.7 1869.8,668.7C1872,668.7 1874.1,693.6 1876.3,710.9C1877.9,723.7 1879.5,731.3 1881.1,759.6C1881.7,769.6 1882.2,807.3 1882.8,824.5C1883.9,856.9 1884.9,902.3 1886,902.3C1888.2,902.3 1890.3,858.1 1892.5,824.5C1893.6,808 1894.6,775.6 1895.7,759.6C1896.8,743.2 1897.9,720.6 1899,720.6C1901.2,720.6 1903.3,725.4 1905.5,733.6C1906.6,737.6 1907.6,760.9 1908.7,775.8C1909.8,791.1 1910.9,803.4 1912,824.5C1913.1,845 1914.1,912.1 1915.2,912.1C1917.9,912.1 1920.6,910.4 1923.3,905.6C1924.4,903.6 1925.5,830.1 1926.6,824.5C1928.2,816.3 1929.8,812.9 1931.4,811.5C1933.6,809.6 1935.7,808.2 1937.9,808.2C1939.5,808.2 1941.2,819.5 1942.8,840.7C1943.3,847.6 1943.9,885.1 1944.4,905.6C1944.9,926.1 1945.5,962.9 1946,964C1948.7,969.4 1951.4,967.4 1954.1,970.5C1956.8,973.6 1959.6,974.1 1962.3,986.7C1962.8,989.2 1963.4,1024.2 1963.9,1035.4C1965,1057.8 1966,1082.8 1967.1,1084C1969.3,1086.4 1971.4,1087.3 1973.6,1087.3C1981.2,1087.3 1988.7,1087.3 1996.3,1087.3C1997.4,1087.3 1998.5,1063.1 1999.6,1051.6C2001.2,1034.8 2002.8,1022.3 2004.4,1002.9C2005.5,989.5 2006.6,973.1 2007.7,954.3C2008.8,936.1 2009.8,918.6 2010.9,889.4C2011.5,873.9 2012,843.7 2012.6,824.5C2013.1,806.5 2013.7,782.4 2014.2,775.8C2015.8,756 2017.4,750.9 2019,743.4C2021.2,733.2 2023.3,728.7 2025.5,720.6C2027.7,712.5 2029.8,708.3 2032,694.7C2033.6,684.4 2035.3,643 2036.9,629.8C2039.5,608.8 2042.1,586.4 2044.7,586.4C2047.1,586.4 2049.6,603.3 2052,620.6C2053.6,632.2 2055.3,684.3 2056.9,684.3C2058.5,684.3 2060.2,668.9 2061.8,654.9C2063.4,640.9 2065.1,618 2066.7,581.5C2067.5,563.6 2068.3,499.8 2069.1,493.4C2070.7,480.4 2072.4,479.9 2074,473.8C2077.3,461.6 2080.5,455 2083.8,440C2085.9,430.5 2087.9,414.6 2090,400C2092,385.8 2094,372.4 2096,353C2097,343.3 2098,326.7 2099,317C2100.3,304.1 2101.7,292 2103,285C2104.7,276.3 2106.3,266 2108,266C2109.7,266 2111.3,267 2113,268C2115.1,269.3 2117.1,274.8 2119.2,278.2C2121.2,281.5 2123.3,282.9 2125.3,288C2126.5,291.1 2127.8,302.1 2129,306.3C2130.6,311.8 2132.3,312.8 2133.9,318.6C2135.5,324.4 2137.2,342.8 2138.8,349.2C2140.8,357.2 2142.9,366.3 2144.9,366.3C2146.9,366.3 2149,356.6 2151,349.2C2152.6,343.3 2154.3,333.4 2155.9,324.7C2157.5,316 2159.2,299.1 2160.8,296.5C2162,294.5 2163.3,292.9 2164.5,292.9C2165.7,292.9 2167,296.4 2168.2,300.2C2169.4,303.9 2170.6,315 2171.8,324.7C2173,334.6 2174.3,354.5 2175.5,361.4C2177.1,370.5 2178.8,379.8 2180.4,379.8C2182.4,379.8 2184.5,374.4 2186.5,367.5C2187.7,363.3 2189,346.6 2190.2,336.9C2191.8,324 2193.5,314.2 2195.1,300.2C2196.3,289.6 2197.6,269.4 2198.8,263.5C2200.4,255.7 2202.1,253.2 2203.7,248.7C2207,239.7 2210.2,224.3 2213.5,224.3C2217.6,224.3 2221.6,229.1 2225.7,229.1C2229,229.1 2232.2,222.2 2235.5,219.4C2238.8,216.6 2242,212 2245.3,212C2249.4,212 2253.5,221.8 2257.6,221.8C2260.8,221.8 2264.1,220.7 2267.3,219.4C2271.4,217.8 2275.5,204.7 2279.6,204.7C2281.2,204.7 2282.9,223.3 2284.5,238.9C2286.1,254.5 2287.8,289.6 2289.4,312.3C2291,335 2292.7,355.4 2294.3,376C2295.9,396.2 2297.5,419.2 2299.1,434.7C2300.7,450.5 2302.4,466.3 2304,473.8C2307.3,488.8 2310.5,493.4 2313.8,503.2C2317.1,513 2320.3,516.6 2323.6,532.6C2325.2,540.6 2326.9,559.8 2328.5,581.5C2330.1,603.2 2331.8,646.8 2333.4,679.4C2335,712 2336.7,744.6 2338.3,777.2C2339.9,809.8 2341.6,847.1 2343.2,875.1C2344.8,903.1 2346.5,928.9 2348.1,948.5C2349.7,968.1 2351.4,979 2353,997.4C2354.6,1015.8 2356.3,1047.6 2357.9,1061C2359.5,1074.4 2361.2,1080.6 2362.8,1090.4" fill="none" stroke="#000" stroke-width="10.5" stroke-linejoin="round" stroke-linecap="round" stroke-dasharray="41 54"/>
<polyline points="291.5,2153 312.9,2153 314.4,1636.6 318.1,2108.5 321.7,1633.4 325.4,1519 329,1559.9 332.7,2024.9 336.3,1510.8 340,1960.7 343.6,1776.3 347.3,2094 350.9,1767.2 354.5,1616.6 358.2,1856.5 361.8,2048.6 365.5,1833.7 369.1,2107.8 372.8,1797.8 376.4,1988.9 380.1,1720.5 383.7,1291.1 387.4,1719.3 391,1904 394.7,1627.5 398.3,2115.7 402,1720.8 405.6,1665.5 409.3,1881.4 412.9,2053.4 416.6,1958.8 420.2,2062.7 421.7,2153 456.7,2153 458.2,1862.5 461.8,2032.1 465.4,1785.4 469.1,2115.1 472.7,1535.2 476.3,2036 479.9,1715.4 483.5,2046.5 487.1,1758.1 490.8,1394.2 494.4,1752.8 498,2087.9 501.6,1811.2 505.2,2130.5 508.8,1812.5 512.5,2144.3 516.1,1700.7 519.7,1942.7 523.3,1848.2 526.9,1966 530.5,1719.3 534.2,1914.7 537.8,1799.6 541.4,1323.6 545,1680.6 548.6,1524.4 552.3,1666.1 555.9,2072.2 559.5,1616.6 563.1,2008.8 566.7,1737.2 570.3,2124.8 574,1841.9 577.6,2114.2 581.2,1652.4 584.8,2093.4 588.4,1613.9 592,2038.1 595.7,1661.1 599.3,1887.7 602.9,1662.6 606.5,1266.7 610.1,1513.5 613.7,2124.6 617.4,1779.3 621,1670.9 624.6,1799.5 628.2,2092.9 631.8,1345.3 635.5,2104.1 639.1,1834.4 642.7,2066.5 646.3,1922.9 649.9,2117.2 653.5,1802.5 657.2,1986.6 660.8,1937.3 664.4,2004 668,1862.2 671.6,2003.7 675.2,1910.9 678.9,2105.3 682.5,1676.3 686.1,2017.1 689.7,1792.3 693.3,2042.2 696.9,1608.4 700.6,2048.7 704.2,1714.3 707.8,2021.6 711.4,1806.6 715,1992.8 718.6,1867.9 722.3,1660 725.9,1872 729.5,2135.2 733.1,1873 736.7,2116.9 740.4,1987.5 741.9,2153 755.1,2153 756.6,1833.4 760.2,1706.2 763.8,1828 767.3,2113.5 770.9,1682.9 774.4,2005.9 778,1895.4 781.6,2102.6 785.1,1825.3 788.7,1986.8 792.2,1220.5 795.8,1936.6 799.4,1864.6 802.9,2113.9 806.5,1649.2 810,2139 813.6,1840.7 815.1,2153 838.7,2153 885.5,2153 887,1779 890.6,2062 894.3,1746.9 898,2100.2 901.6,1882 905.3,1860.8 908.9,1849.2 912.6,2039.4 916.3,1796.6 919.9,2068.6 923.6,1698 927.3,2126.3 930.9,1873.2 934.6,2098.9 938.2,1937.9 941.9,2131.4 945.6,1860.8 949.2,2138.8 952.9,1798.4 956.6,2057.4 960.2,1845.7 961.7,2153 988.6,2153 990.1,1641.1 993.7,1844.5 997.3,1669.3 1000.9,1185.3 1004.5,1345.3 1008.1,1771.1 1011.7,1596.5 1015.4,2088.4 1019,1693.4 1022.6,2055.3 1026.2,1703.7 1029.8,2041.1 1033.4,1686 1037,1853.9 1040.6,1600.4 1044.2,1896.9 1047.9,1771.3 1051.5,1988.7 1055.1,1714.2 1058.7,1797.7 1062.3,1692.2 1065.9,1823.5 1069.5,1686.2 1073.1,1242.2 1076.8,1546.1 1080.4,2107.8 1084,1685.1 1087.6,1840.5 1091.2,1652.9 1094.8,1367 1098.4,1597.5 1102,1861 1105.7,1734.7 1109.3,1611.2 1112.9,1717.1 1116.5,2055.9 1120.1,1710.4 1123.7,2095.1 1127.3,1672.5 1130.9,2140.1 1134.6,1573.9 1138.2,1334.5 1141.8,1475.6 1145.4,1856.9 1149,1741.7 1152.6,1990 1156.2,1664.8 1159.8,1868.2 1163.5,1790.1 1167.1,2033.7 1170.7,1758.5 1174.3,1839.6 1177.9,1746.4 1181.5,1820.2 1185.1,1234.1 1188.7,2121.2 1192.4,1706.7 1196,1443 1199.6,1713.6 1203.2,1971.5 1206.8,1752.4 1210.4,1844.3 1214,1688.7 1217.6,2122 1221.3,1692.4 1224.9,1589.5 1228.5,1754.3 1232.1,2043.4 1235.7,1711 1239.3,1810.2 1242.9,1569.7 1246.5,1301.9 1250.1,1638.9 1253.8,1977.2 1257.4,1470.1 1261,1999.5 1264.6,1698.9 1268.2,1930.6 1271.8,1502.7 1275.4,1875.5 1279,1720.8 1282.7,1822.8 1286.3,1542.4 1289.9,1945.6 1293.5,1658.9 1297.1,1578.6 1300.7,1772.5 1304.3,1878.5 1307.9,1819.3 1311.6,2141.2 1315.2,1811 1318.8,2104.8 1322.4,1830 1326,2036.9 1329.6,1824 1333.2,1956.6 1336.8,1833.6 1340.5,1899.4 1344.1,1717.1 1347.7,1834.4 1351.3,1402.3 1354.9,2107.6 1358.5,1691.8 1362.1,1959.4 1365.7,1621.7 1369.4,2065.6 1373,1806.3 1376.6,1876.6 1380.2,1827.6 1380.9,1786 1384.5,1950.2 1388.2,1646.8 1391.9,1929.8 1395.6,1701.1 1399.3,1937.6 1402.9,1670.1 1406.6,1291.1 1410.3,1662 1414,1936 1417.7,1853.8 1421.4,1676.3 1425,1884.7 1428.7,2100.1 1432.4,2106.7 1433.9,2153 1479.7,2153 1481.2,1754.9 1484.9,2084.1 1488.5,1301.9 1492.1,2142 1495.8,1513.5 1499.4,2053.1 1503.1,1652.6 1506.7,1905.1 1510.3,1832.8 1514,2137.3 1517.6,1687.5 1521.3,1879.3 1524.9,1762.2 1528.5,1437.6 1532.2,1575.1 1535.8,1291.1 1539.5,1388.7 1543.1,2122.9 1546.7,1768.8 1550.4,2139.8 1554,1778.2 1557.7,2129.8 1561.3,1710.6 1564.9,2078.6 1568.6,1773.2 1572.2,2127.8 1575.9,1685.2 1579.5,1998.5 1583.1,1521.7 1586.8,1980.5 1590.4,1718.6 1594.1,2022.9 1597.7,1697.8 1601.3,2100.6 1605,1733.8 1608.6,1983.9 1612.2,1743.4 1615.9,2093.9 1619.5,1632.9 1623.2,2080.2 1626.8,1664 1630.4,1247.7 1634.4,1978.8 1636,1723.4 1637.6,1627.7 1639.2,1554.3 1640.7,1503.2 1641.7,1554.3 1643.9,1554.3 1645.5,1704.3 1650.3,1634.1 1658.3,1653.2 1663.1,1697.9 1664.7,1749 1674.3,1749 1680.6,1646.8 1685.4,1691.5 1688.6,1723.4 1696.6,1736.2 1703,1749 1706.2,1777.7 1711,1761.7 1718.9,1749 1723.7,1771.3 1725.3,1819.2 1728.5,1847.9 1733.3,1867.1 1734.9,1914.9 1739.7,1946.9 1747.7,1966 1750.9,1851.1 1754.1,1774.5 1758.8,1803.2 1762,2010.7 1765.2,1819.2 1773.2,1787.3 1778,1819.2 1781.2,2010.7 1784.4,1914.9 1789.2,1851.1 1794,1787.3 1798.7,1787.3 1805.1,1806.4 1809.9,1819.2 1814.7,1978.8 1817.9,1787.3 1821.1,1646.8 1825.9,1659.6 1827.5,1787.3 1832.3,1816 1840.2,1803.2 1846.6,1761.7 1847.5,1754.3 1851.1,1914.2 1854.6,1838.7 1858.2,1984 1861.7,1770.1 1865.3,2021.3 1868.9,1830.1 1872.4,2111.5 1876,1668.1 1879.5,2041.1 1883.1,1693.5 1886.6,2102.8 1890.2,1792.9 1893.8,1996.7 1897.3,1475.6 1900.9,1978.8 1904.4,1573.2 1908,2100.3 1911.6,1818.4 1915.1,2141 1918.7,1736 1922.2,2071.8 1925.8,1858.7 1929.4,1432.1 1932.9,1698.6 1936.5,2117.3 1940,1728.8 1943.6,1934.4 1947.1,1783.9 1950.7,1673.6 1954.3,1873 1957.8,2106.4 1961.4,1847.1 1964.9,1795.7 1968.5,1901.8 1970,2153 1999.6,2153 2001.1,2148.4 2003.8,2045.3 2009.2,1963.9 2011.9,1801.1 2014.6,1638.3 2015.7,1253.1 2017.9,1587.4 2021.4,1709.5 2024.9,1513.5 2028.4,1764.8 2031.8,1906.3 2035.3,1888.5 2038.8,1622.9 2042.3,1486.8 2045.8,1636.5 2049.3,1722 2052.8,1980.1 2056.3,1766 2059.8,2054 2063.2,1856 2066.7,1697.9 2068.9,1556.9 2071.6,1312.8 2073.2,1155.4 2075.4,1312.8 2077,1421.3 2079.8,1719.7 2085.2,1638.3 2090.6,1529.8 2101.5,1391.5 2109.6,1529.8 2115,1638.3 2120.4,1719.7 2125.9,1763.1 2131.3,1681.7 2136.7,1708.9 2142.1,1795.7 2147.6,1692.6 2155.7,1584.1 2161.1,1510.8 2166.6,1584.1 2172,1692.6 2174.7,1920.5 2180.1,1746.9 2185.6,1719.7 2191,1529.8 2196.4,1508.1 2204.5,1540.7 2212.7,1529.8 2223.5,1584.1 2231.7,1627.5 2239.8,1556.9 2248,1584.1 2258.8,1616.6 2269.7,1584.1 2277.8,1513.5 2283.2,1562.4 2285.9,1692.6 2288.6,1828.2 2294.1,1774 2302.2,1828.2 2307.6,1996.4 2313.1,1828.2 2321.2,1855.4 2329.3,2039.9 2337.5,1774 2342.9,1828.2 2348.3,1746.9 2353.8,1963.9 2358.1,1676.3 2361.9,1963.9 2367.3,1936.8 2370,2153" fill="none" stroke="#f00" stroke-width="11.5" stroke-linejoin="round" stroke-linecap="round"/>
<polyline points="291.5,2153 312.9,2153 314.4,1746.6 318.1,2108.5 321.7,1726.5 325.4,1570 329,1643.3 332.7,2024.9 336.3,1559.5 340,1960.7 343.6,1776.3 347.3,2094 350.9,1814.6 354.5,1616.6 358.2,1856.5 361.8,2048.6 365.5,1874.3 369.1,2107.8 372.8,1797.8 376.4,1988.9 380.1,1720.5 383.7,1587.7 387.4,1719.3 391,1904 394.7,1646.3 398.3,2115.7 402,1811.8 405.6,1665.5 409.3,1881.4 412.9,2053.4 416.6,1958.8 420.2,2062.7 421.7,2153 456.7,2153 458.2,1862.5 461.8,2032.1 465.4,1785.4 469.1,2115.1 472.7,1595.9 476.3,2036 479.9,1715.4 483.5,2046.5 487.1,1758.1 490.8,1563.6 494.4,1835.2 498,2087.9 501.6,1865.5 505.2,2130.5 508.8,1812.5 512.5,2144.3 516.1,1700.7 519.7,1942.7 523.3,1848.2 526.9,1966 530.5,1719.3 534.2,1914.7 537.8,1799.6 541.4,1562.2 545,1722.1 548.6,1604.1 552.3,1699.7 555.9,2072.2 559.5,1616.6 563.1,2008.8 566.7,1737.2 570.3,2124.8 574,1841.9 577.6,2114.2 581.2,1726.2 584.8,2093.4 588.4,1613.9 592,2038.1 595.7,1756.7 599.3,1887.7 602.9,1739.3 606.5,1590.1 610.1,1602.2 613.7,2124.6 617.4,1779.3 621,1670.9 624.6,1799.5 628.2,2092.9 631.8,1654.2 635.5,2104.1 639.1,1834.4 642.7,2066.5 646.3,1922.9 649.9,2117.2 653.5,1860 657.2,1986.6 660.8,1937.3 664.4,2004 668,1862.2 671.6,2003.7 675.2,1910.9 678.9,2105.3 682.5,1676.3 686.1,2017.1 689.7,1792.3 693.3,2042.2 696.9,1748.3 700.6,2048.7 704.2,1714.3 707.8,2021.6 711.4,1841.8 715,1992.8 718.6,1867.9 722.3,1660 725.9,1935.2 729.5,2135.2 733.1,1955.7 736.7,2116.9 740.4,1987.5 741.9,2153 755.1,2153 756.6,1833.4 760.2,1706.2 763.8,1828 767.3,2113.5 770.9,1807.2 774.4,2005.9 778,1895.4 781.6,2102.6 785.1,1825.3 788.7,1986.8 792.2,1587.2 795.8,1936.6 799.4,1864.6 802.9,2113.9 806.5,1649.2 810,2139 813.6,1902.6 815.1,2153 838.7,2153 885.5,2153 887,1896.7 890.6,2062 894.3,1746.9 898,2100.2 901.6,1882 905.3,1860.8 908.9,1849.2 912.6,2039.4 916.3,1796.6 919.9,2068.6 923.6,1698 927.3,2126.3 930.9,1873.2 934.6,2098.9 938.2,1937.9 941.9,2131.4 945.6,1860.8 949.2,2138.8 952.9,1798.4 956.6,2057.4 960.2,1845.7 961.7,2153 988.6,2153 990.1,1784.9 993.7,1844.5 997.3,1669.3 1000.9,1599.3 1004.5,1582.2 1008.1,1771.1 1011.7,1692 1015.4,2088.4 1019,1750.7 1022.6,2055.3 1026.2,1796 1029.8,2041.1 1033.4,1721.3 1037,1853.9 1040.6,1649.6 1044.2,1896.9 1047.9,1771.3 1051.5,1988.7 1055.1,1714.2 1058.7,1797.7 1062.3,1692.2 1065.9,1823.5 1069.5,1686.2 1073.1,1580.9 1076.8,1609.2 1080.4,2107.8 1084,1685.1 1087.6,1840.5 1091.2,1720.9 1094.8,1578.8 1098.4,1744 1102,1861 1105.7,1734.7 1109.3,1611.2 1112.9,1717.1 1116.5,2055.9 1120.1,1710.4 1123.7,2095.1 1127.3,1672.5 1130.9,2140.1 1134.6,1676.3 1138.2,1625.8 1141.8,1649.7 1145.4,1856.9 1149,1741.7 1152.6,1990 1156.2,1796.5 1159.8,1868.2 1163.5,1790.1 1167.1,2033.7 1170.7,1758.5 1174.3,1839.6 1177.9,1746.4 1181.5,1820.2 1185.1,1561.3 1188.7,2121.2 1192.4,1706.7 1196,1623.3 1199.6,1713.6 1203.2,1971.5 1206.8,1752.4 1210.4,1844.3 1214,1688.7 1217.6,2122 1221.3,1692.4 1224.9,1607.1 1228.5,1754.3 1232.1,2043.4 1235.7,1711 1239.3,1810.2 1242.9,1633 1246.5,1619.6 1250.1,1679.6 1253.8,1977.2 1257.4,1624.6 1261,1999.5 1264.6,1698.9 1268.2,1930.6 1271.8,1580.2 1275.4,1875.5 1279,1720.8 1282.7,1822.8 1286.3,1687 1289.9,1945.6 1293.5,1658.9 1297.1,1578.6 1300.7,1772.5 1304.3,1878.5 1307.9,1819.3 1311.6,2141.2 1315.2,1811 1318.8,2104.8 1322.4,1830 1326,2036.9 1329.6,1824 1333.2,1956.6 1336.8,1833.6 1340.5,1899.4 1344.1,1717.1 1347.7,1834.4 1351.3,1628.4 1354.9,2107.6 1358.5,1691.8 1362.1,1959.4 1365.7,1715.2 1369.4,2065.6 1373,1806.3 1376.6,1876.6 1380.2,1827.6 1380.9,1786 1384.5,1950.2 1388.2,1704.8 1391.9,1929.8 1395.6,1701.1 1399.3,1937.6 1402.9,1714.3 1406.6,1567.7 1410.3,1762.5 1414,1936 1417.7,1853.8 1421.4,1676.3 1425,1950.8 1428.7,2100.1 1432.4,2106.7 1433.9,2153 1479.7,2153 1481.2,1835.5 1484.9,2084.1 1488.5,1559.1 1492.1,2142 1495.8,1616.2 1499.4,2053.1 1503.1,1652.6 1506.7,1905.1 1510.3,1832.8 1514,2137.3 1517.6,1687.5 1521.3,1879.3 1524.9,1762.2 1528.5,1605.2 1532.2,1700.5 1535.8,1599.3 1539.5,1556.5 1543.1,2122.9 1546.7,1768.8 1550.4,2139.8 1554,1778.2 1557.7,2129.8 1561.3,1779.6 1564.9,2078.6 1568.6,1773.2 1572.2,2127.8 1575.9,1685.2 1579.5,1998.5 1583.1,1640.3 1586.8,1980.5 1590.4,1718.6 1594.1,2022.9 1597.7,1697.8 1601.3,2100.6 1605,1733.8 1608.6,1983.9 1612.2,1743.4 1615.9,2093.9 1619.5,1755.8 1623.2,2080.2 1626.8,1723.8 1630.4,1584.1 1634.4,1978.8 1636,1723.4 1637.6,1627.7 1639.2,1560.6 1640.7,1560.6 1641.7,1560.6 1643.9,1560.6 1645.5,1704.3 1650.3,1634.1 1658.3,1653.2 1663.1,1697.9 1664.7,1749 1674.3,1749 1680.6,1646.8 1685.4,1691.5 1688.6,1723.4 1696.6,1736.2 1703,1749 1706.2,1777.7 1711,1761.7 1718.9,1749 1723.7,1771.3 1725.3,1819.2 1728.5,1847.9 1733.3,1867.1 1734.9,1914.9 1739.7,1946.9 1747.7,1966 1750.9,1851.1 1754.1,1774.5 1758.8,1803.2 1762,2010.7 1765.2,1819.2 1773.2,1787.3 1778,1819.2 1781.2,2010.7 1784.4,1914.9 1789.2,1851.1 1794,1787.3 1798.7,1787.3 1805.1,1806.4 1809.9,1819.2 1814.7,1978.8 1817.9,1787.3 1821.1,1646.8 1825.9,1659.6 1827.5,1787.3 1832.3,1816 1840.2,1803.2 1846.6,1761.7 1847.5,1754.3 1851.1,1914.2 1854.6,1838.7 1858.2,1984 1861.7,1770.1 1865.3,2021.3 1868.9,1830.1 1872.4,2111.5 1876,1734.5 1879.5,2041.1 1883.1,1693.5 1886.6,2102.8 1890.2,1792.9 1893.8,1996.7 1897.3,1576.8 1900.9,1978.8 1904.4,1593.5 1908,2100.3 1911.6,1818.4 1915.1,2141 1918.7,1736 1922.2,2071.8 1925.8,1858.7 1929.4,1621.6 1932.9,1816.3 1936.5,2117.3 1940,1728.8 1943.6,1934.4 1947.1,1845 1950.7,1673.6 1954.3,1873 1957.8,2106.4 1961.4,1847.1 1964.9,1795.7 1968.5,1901.8 1970,2153 1999.6,2153 2001.1,2148.4 2003.8,2045.3 2009.2,1963.9 2011.9,1801.1 2014.6,1638.3 2015.7,1560.6 2017.9,1644.1 2021.4,1709.5 2024.9,1612 2028.4,1764.8 2031.8,1906.3 2035.3,1888.5 2038.8,1622.9 2042.3,1619.4 2045.8,1636.5 2049.3,1722 2052.8,1980.1 2056.3,1766 2059.8,2054 2063.2,1856 2066.7,1697.9 2068.9,1560.6 2071.6,1560.6 2073.2,1560.6 2075.4,1560.6 2077,1560.6 2079.8,1719.7 2085.2,1638.3 2090.6,1560.6 2101.5,1560.6 2109.6,1560.6 2115,1638.3 2120.4,1719.7 2125.9,1763.1 2131.3,1681.7 2136.7,1708.9 2142.1,1795.7 2147.6,1692.6 2155.7,1584.1 2161.1,1560.6 2166.6,1584.1 2172,1692.6 2174.7,1920.5 2180.1,1746.9 2185.6,1719.7 2191,1560.6 2196.4,1560.6 2204.5,1560.6 2212.7,1560.6 2223.5,1584.1 2231.7,1627.5 2239.8,1560.6 2248,1584.1 2258.8,1616.6 2269.7,1584.1 2277.8,1560.6 2283.2,1562.4 2285.9,1692.6 2288.6,1828.2 2294.1,1774 2302.2,1828.2 2307.6,1996.4 2313.1,1828.2 2321.2,1855.4 2329.3,2039.9 2337.5,1774 2342.9,1828.2 2348.3,1746.9 2353.8,1963.9 2358.1,1676.3 2361.9,1963.9 2367.3,1936.8 2370,2153" fill="none" stroke="#000" stroke-width="10.5" stroke-linejoin="round" stroke-linecap="round" stroke-dasharray="41 54"/>
<text transform="translate(255 1114.5) scale(1.0150 1.0500)" font-family="'Liberation Sans', Arial, sans-serif" font-size="58" text-anchor="end">0</text>
<text transform="translate(255 976.8) scale(1.0150 1.0500)" font-family="'Liberation Sans', Arial, sans-serif" font-size="58" text-anchor="end">20</text>
<text transform="translate(255 839) scale(1.0150 1.0500)" font-family="'Liberation Sans', Arial, sans-serif" font-size="58" text-anchor="end">40</text>
<text transform="translate(255 701.2) scale(1.0150 1.0500)" font-family="'Liberation Sans', Arial, sans-serif" font-size="58" text-anchor="end">60</text>
<text transform="translate(255 563.5) scale(1.0150 1.0500)" font-family="'Liberation Sans', Arial, sans-serif" font-size="58" text-anchor="end">80</text>
<text transform="translate(255 425.8) scale(1.0150 1.0500)" font-family="'Liberation Sans', Arial, sans-serif" font-size="58" text-anchor="end">100</text>
<text transform="translate(255 288) scale(1.0150 1.0500)" font-family="'Liberation Sans', Arial, sans-serif" font-size="58" text-anchor="end">120</text>
<text transform="translate(258.2 2176) scale(1.0100 1.0500)" font-family="'Liberation Sans', Arial, sans-serif" font-size="58" text-anchor="end">0.00</text>
<text transform="translate(258.2 2008.5) scale(1.0100 1.0500)" font-family="'Liberation Sans', Arial, sans-serif" font-size="58" text-anchor="end">0.05</text>
<text transform="translate(258.2 1840.9) scale(1.0100 1.0500)" font-family="'Liberation Sans', Arial, sans-serif" font-size="58" text-anchor="end">0.10</text>
<text transform="translate(258.2 1673.3) scale(1.0100 1.0500)" font-family="'Liberation Sans', Arial, sans-serif" font-size="58" text-anchor="end">0.15</text>
<text transform="translate(258.2 1505.8) scale(1.0100 1.0500)" font-family="'Liberation Sans', Arial, sans-serif" font-size="58" text-anchor="end">0.20</text>
<text transform="translate(258.2 1338.2) scale(1.0100 1.0500)" font-family="'Liberation Sans', Arial, sans-serif" font-size="58" text-anchor="end">0.25</text>
<text transform="translate(258.2 1170.7) scale(1.0100 1.0500)" font-family="'Liberation Sans', Arial, sans-serif" font-size="58" text-anchor="end">0.30</text>
<text transform="translate(303.8 2251) scale(1.0000 1.0500)" font-family="'Liberation Sans', Arial, sans-serif" font-size="58" text-anchor="middle">0</text>
<text transform="translate(533.4 2251) scale(1.0000 1.0500)" font-family="'Liberation Sans', Arial, sans-serif" font-size="58" text-anchor="middle">200</text>
<text transform="translate(763.1 2251) scale(1.0000 1.0500)" font-family="'Liberation Sans', Arial, sans-serif" font-size="58" text-anchor="middle">400</text>
<text transform="translate(992.7 2251) scale(1.0000 1.0500)" font-family="'Liberation Sans', Arial, sans-serif" font-size="58" text-anchor="middle">600</text>
<text transform="translate(1222.3 2251) scale(1.0000 1.0500)" font-family="'Liberation Sans', Arial, sans-serif" font-size="58" text-anchor="middle">800</text>
<text transform="translate(1452 2251) scale(1.0000 1.0500)" font-family="'Liberation Sans', Arial, sans-serif" font-size="58" text-anchor="middle">1000</text>
<text transform="translate(1681.6 2251) scale(1.0000 1.0500)" font-family="'Liberation Sans', Arial, sans-serif" font-size="58" text-anchor="middle">1200</text>
<text transform="translate(1911.2 2251) scale(1.0000 1.0500)" font-family="'Liberation Sans', Arial, sans-serif" font-size="58" text-anchor="middle">1400</text>
<text transform="translate(2140.9 2251) scale(1.0000 1.0500)" font-family="'Liberation Sans', Arial, sans-serif" font-size="58" text-anchor="middle">1600</text>
<text transform="translate(2370.5 2251) scale(1.0000 1.0500)" font-family="'Liberation Sans', Arial, sans-serif" font-size="58" text-anchor="middle">1800</text>
<text transform="translate(77.1 1067.7) rotate(-90) scale(0.9980 1.0200)" font-family="'Liberation Sans', Arial, sans-serif" font-size="74" font-weight="bold">Vehicle Speed (km/h)</text>
<text transform="translate(67.9 1889.7) rotate(-90) scale(0.9930 1.0200)" font-family="'Liberation Sans', Arial, sans-serif" font-size="74" font-weight="bold">Accpedal (%)</text>
<text transform="translate(1200 2351) scale(1.0040 1.0360)" font-family="'Liberation Sans', Arial, sans-serif" font-size="74" font-weight="bold">Time <tspan font-size="62" dy="-4.5">(</tspan><tspan font-size="74" dy="4.5">s</tspan><tspan font-size="62" dy="-4.5">)</tspan></text>
<line x1="1588.5" y1="29.5" x2="1757.3" y2="29.5" stroke="#f00" stroke-width="11" stroke-linecap="round"/>
<line x1="1594.4" y1="112.4" x2="1635.5" y2="112.4" stroke="#000" stroke-width="11" stroke-linecap="round"/>
<line x1="1689.7" y1="112.4" x2="1731.2" y2="112.4" stroke="#000" stroke-width="11" stroke-linecap="round"/>
<text transform="translate(1778.3 55.9)" font-family="'Liberation Sans', Arial, sans-serif" font-size="52" font-weight="bold">Unlimited Accelerator Pedal</text>
<text transform="translate(1776.6 137.8)" font-family="'Liberation Sans', Arial, sans-serif" font-size="52" font-weight="bold">Limited Accelerator Pedal</text>
<g stroke="#000" stroke-width="2.2" fill="none">
<line x1="1031" y1="171.5" x2="1031" y2="452"/>
<line x1="1030" y1="451" x2="1432.5" y2="451"/>
<line x1="1024.4" y1="427.4" x2="1031" y2="427.4"/>
<line x1="1024.4" y1="395.7" x2="1031" y2="395.7"/>
<line x1="1024.4" y1="364" x2="1031" y2="364"/>
<line x1="1024.4" y1="332.3" x2="1031" y2="332.3"/>
<line x1="1024.4" y1="300.6" x2="1031" y2="300.6"/>
<line x1="1024.4" y1="268.9" x2="1031" y2="268.9"/>
<line x1="1024.4" y1="237.2" x2="1031" y2="237.2"/>
<line x1="1024.4" y1="205.5" x2="1031" y2="205.5"/>
<line x1="1024.4" y1="173.8" x2="1031" y2="173.8"/>
<line x1="1027.1" y1="443.2" x2="1031" y2="443.2"/>
<line x1="1027.1" y1="411.6" x2="1031" y2="411.6"/>
<line x1="1027.1" y1="379.9" x2="1031" y2="379.9"/>
<line x1="1027.1" y1="348.1" x2="1031" y2="348.1"/>
<line x1="1027.1" y1="316.5" x2="1031" y2="316.5"/>
<line x1="1027.1" y1="284.8" x2="1031" y2="284.8"/>
<line x1="1027.1" y1="253.1" x2="1031" y2="253.1"/>
<line x1="1027.1" y1="221.4" x2="1031" y2="221.4"/>
<line x1="1027.1" y1="189.7" x2="1031" y2="189.7"/>
<line x1="1208.7" y1="451" x2="1208.7" y2="456.5"/>
<line x1="1392.3" y1="451" x2="1392.3" y2="456.5"/>
<line x1="1116.9" y1="451" x2="1116.9" y2="454.5"/>
<line x1="1300.5" y1="451" x2="1300.5" y2="454.5"/>
</g>
<text transform="translate(999.5 431.6) scale(1.0500 1.0000)" font-family="'Liberation Sans', Arial, sans-serif" font-size="12.5">108</text>
<text transform="translate(999.5 399.9) scale(1.0500 1.0000)" font-family="'Liberation Sans', Arial, sans-serif" font-size="12.5">110</text>
<text transform="translate(999.5 368.2) scale(1.0500 1.0000)" font-family="'Liberation Sans', Arial, sans-serif" font-size="12.5">112</text>
<text transform="translate(999.5 336.5) scale(1.0500 1.0000)" font-family="'Liberation Sans', Arial, sans-serif" font-size="12.5">114</text>
<text transform="translate(999.5 304.8) scale(1.0500 1.0000)" font-family="'Liberation Sans', Arial, sans-serif" font-size="12.5">116</text>
<text transform="translate(999.5 273.1) scale(1.0500 1.0000)" font-family="'Liberation Sans', Arial, sans-serif" font-size="12.5">118</text>
<text transform="translate(999.5 241.4) scale(1.0500 1.0000)" font-family="'Liberation Sans', Arial, sans-serif" font-size="12.5">120</text>
<text transform="translate(999.5 209.7) scale(1.0500 1.0000)" font-family="'Liberation Sans', Arial, sans-serif" font-size="12.5">122</text>
<text transform="translate(999.5 178) scale(1.0500 1.0000)" font-family="'Liberation Sans', Arial, sans-serif" font-size="12.5">124</text>
<text transform="translate(1208.7 468.5)" font-family="'Liberation Sans', Arial, sans-serif" font-size="13" text-anchor="middle">1580</text>
<text transform="translate(1392.3 468.5)" font-family="'Liberation Sans', Arial, sans-serif" font-size="13" text-anchor="middle">1600</text>
<text transform="translate(1203.5 492) scale(1.1100 0.9300)" font-family="'Liberation Sans', Arial, sans-serif" font-size="14">Time (s)</text>
<text transform="translate(977.1 382.7) rotate(-90) scale(1.0400 0.9300)" font-family="'Liberation Sans', Arial, sans-serif" font-size="14">Vehicle Speed (km/h)</text>
<path d="M1045.7,450.3C1048.8,440.6 1052,430.3 1055.1,421C1058.6,410.8 1062.1,401.9 1065.6,391.8C1069.1,381.7 1072.5,370.8 1076,360.4C1079.5,349.9 1083,338.7 1086.5,329C1090,319.3 1093.5,310.5 1096.9,301.8C1100.4,293.1 1103.9,284.7 1107.4,276.7C1110.9,268.7 1114.4,260.8 1117.9,253.7C1121.4,246.6 1124.8,240.1 1128.3,233.8C1131.8,227.6 1135.3,221.3 1138.8,216C1143,209.7 1147.2,203.6 1151.3,199.3C1155.5,195 1159.7,190.4 1163.9,188.8C1168.1,187.2 1172.3,185.7 1176.4,185.7C1179.9,185.7 1183.4,186.2 1186.9,186.7C1191.1,187.4 1195.3,189.7 1199.5,192C1203.6,194.2 1207.8,198.1 1212,201.4C1216.2,204.7 1220.4,207.9 1224.6,211.8C1228.7,215.8 1232.9,220.6 1237.1,225.4C1241.3,230.3 1245.5,235.4 1249.7,241.1C1253.8,246.8 1258,253.4 1262.2,260C1266.4,266.6 1270.6,273.9 1274.8,280.9C1279,287.9 1283.1,296.1 1287.3,301.8C1291.5,307.5 1295.7,312.1 1299.9,316.4C1304.1,320.7 1308.2,324.7 1312.4,327.9C1316.6,331.2 1320.8,334.5 1325,336.3C1329.2,338.2 1333.3,338.8 1337.5,340.5C1341.7,342.2 1345.9,344.3 1350.1,346.8C1354.3,349.3 1358.5,352.2 1362.6,356.2C1366.8,360.2 1371,367 1375.2,372.9C1379.4,378.8 1383.6,385.2 1387.7,391.8C1391.9,398.4 1396.1,405.7 1400.3,412.7C1404.5,419.7 1408.7,428.1 1412.8,433.6C1417.7,440 1422.6,444.1 1427.5,449.3" fill="none" stroke="#f00" stroke-width="3.8" stroke-linejoin="round"/>
<path d="M1053,450.3C1055.8,443.4 1058.6,436 1061.4,429.4C1064.9,421.2 1068.4,414.1 1071.8,406.4C1075.3,398.7 1078.8,390.7 1082.3,383.4C1085.8,376.1 1089.3,369.4 1092.8,362.5C1096.9,354.1 1101.1,345 1105.3,337.4C1109.5,329.8 1113.7,323.2 1117.9,316.4C1122.7,308.5 1127.6,301.1 1132.5,293.4C1137.4,285.8 1142.3,277.7 1147.2,270.4C1152,263.1 1156.9,256.1 1161.8,249.5C1166.7,242.9 1171.6,236.6 1176.4,230.7C1180.6,225.6 1184.8,220.7 1189,216C1192.8,211.7 1196.7,204.7 1200.5,203.5C1204.3,202.3 1208.2,201.4 1212,201.4C1216.2,201.4 1220.4,207.9 1224.6,211.8C1228.7,215.8 1232.9,220.6 1237.1,225.4C1241.3,230.3 1245.5,235.4 1249.7,241.1C1253.8,246.8 1258,253.4 1262.2,260C1266.4,266.6 1270.6,273.9 1274.8,280.9C1279,287.9 1283.1,296.1 1287.3,301.8C1291.5,307.5 1295.7,312.1 1299.9,316.4C1304.1,320.7 1308.2,324.7 1312.4,327.9C1316.6,331.2 1320.8,334.5 1325,336.3C1329.2,338.2 1333.3,338.8 1337.5,340.5C1341.7,342.2 1345.9,344.3 1350.1,346.8C1354.3,349.3 1358.5,352.2 1362.6,356.2C1366.8,360.2 1371,367 1375.2,372.9C1379.4,378.8 1383.6,385.2 1387.7,391.8C1391.9,398.4 1396.1,405.7 1400.3,412.7C1404.5,419.7 1408.7,428.1 1412.8,433.6C1417.7,440 1422.6,444.1 1427.5,449.3" fill="none" stroke="#000" stroke-width="3.8" stroke-linejoin="round" stroke-linecap="round" stroke-dasharray="10 15.5"/>
<line x1="1312" y1="139" x2="1351" y2="139" stroke="#f00" stroke-width="3.8"/>
<line x1="1313.5" y1="156.1" x2="1326" y2="156.1" stroke="#000" stroke-width="4" stroke-linecap="round"/>
<line x1="1340.5" y1="156.1" x2="1349" y2="156.1" stroke="#000" stroke-width="4" stroke-linecap="round"/>
<text transform="translate(1352.6 145.2) scale(1.1200 0.9200)" font-family="'Liberation Sans', Arial, sans-serif" font-size="10">Unlimited Accelerator Pedal</text>
<text transform="translate(1350.5 160.9) scale(1.1200 0.9200)" font-family="'Liberation Sans', Arial, sans-serif" font-size="10">Limited Accelerator Pedal</text>
<circle cx="2085.5" cy="290.9" r="68.8" fill="none" stroke="#00f" stroke-width="12"/>
<line x1="2016.6" y1="290" x2="1392" y2="322.7" stroke="#000" stroke-width="8.5"/>
<polygon points="1357.5,324.5 1395,312.5 1395.5,332.5" fill="#000" stroke="#000" stroke-width="5" stroke-linejoin="round"/>
</svg>
</body></html>
